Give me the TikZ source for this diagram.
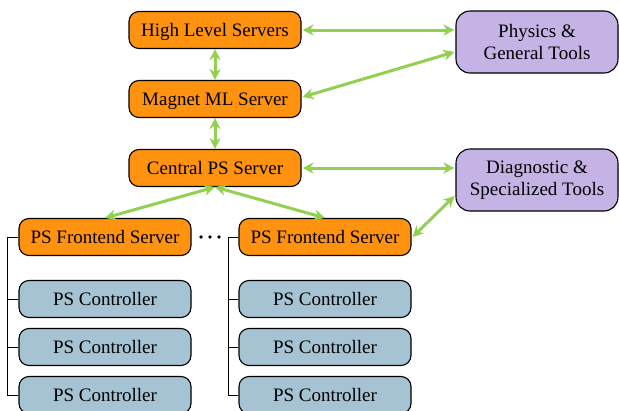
\documentclass[tikz,border=0pt]{standalone}
\usepackage{fontspec}
\setmainfont{Liberation Serif}
\usetikzlibrary{arrows.meta,calc}
\definecolor{orangebox}{HTML}{FF930F}
\definecolor{purplebox}{HTML}{C5B3E6}
\definecolor{bluebox}{HTML}{A5C3D3}
\definecolor{linkgreen}{HTML}{92D050}
\tikzset{
  box/.style={draw=black, line width=1.1pt, rounded corners=10pt, minimum width=172pt, minimum height=37pt, inner sep=0pt, font=\rmfamily\fontsize{19}{22}\selectfont, align=center},
  onerow/.style={text height=13pt, text depth=0.5pt},
  server/.style={box, onerow, fill=orangebox},
  tool/.style={box, fill=purplebox, minimum width=162pt, minimum height=62pt, rounded corners=14pt},
  ctrl/.style={box, onerow, fill=bluebox},
  link/.style={draw=linkgreen, line width=3pt, {Stealth[length=11pt,width=11pt]}-{Stealth[length=11pt,width=11pt]}},
  tree/.style={draw=black, line width=1pt}
}
\begin{document}
\begin{tikzpicture}[x=1pt,y=-1pt]
\useasboundingbox (0,0) rectangle (619,410);
\clip (0,0) rectangle (619,410);
\node[server] (hl) at (215,30) {High Level Servers};
\node[server] (mml) at (215,99) {Magnet ML Server};
\node[server] (cen) at (215,168) {Central PS Server};
\node[tool] (phys) at (537,42) {Physics \&\\General Tools};
\node[tool] (diag) at (537,180) {Diagnostic \&\\Specialized Tools};
\node[server] (fe1) at (105,237) {PS Frontend Server};
\node[server] (fe2) at (325,237) {PS Frontend Server};
\node[ctrl] (c11) at (105,299) {PS Controller};
\node[ctrl] (c12) at (105,347) {PS Controller};
\node[ctrl] (c13) at (105,395) {PS Controller};
\node[ctrl] (c21) at (325,299) {PS Controller};
\node[ctrl] (c22) at (325,347) {PS Controller};
\node[ctrl] (c23) at (325,395) {PS Controller};
% dots
\foreach \x in {201,210,219} \fill (\x,237) circle (1.8);
% tree lines
\draw[tree] (fe1.west) -- ++(-11,0) |- (c13.west);
\draw[tree] (c11.west) -- ++(-11,0);
\draw[tree] (c12.west) -- ++(-11,0);
\draw[tree] (fe2.west) -- ++(-10,0) |- (c23.west);
\draw[tree] (c21.west) -- ++(-10,0);
\draw[tree] (c22.west) -- ++(-10,0);
% links
\draw[link] (hl.south) -- (mml.north);
\draw[link] (mml.south) -- (cen.north);
\draw[link] ($(hl.east)+(1,0)$) -- ($(hl.east -| phys.west)+(-1,0)$);
\draw[link] ($(mml.east)+(1,-2)$) -- ($(phys.west)+(-1,10)$);
\draw[link] ($(cen.east)+(1,0)$) -- ($(cen.east -| diag.west)+(-1,0)$);
\draw[link] (cen.south) -- (fe1.north);
\draw[link] (cen.south) -- (fe2.north);
\draw[link] ($(fe2.east)+(1,0)$) -- ($(diag.west)+(-1,16)$);
\end{tikzpicture}
\end{document}
